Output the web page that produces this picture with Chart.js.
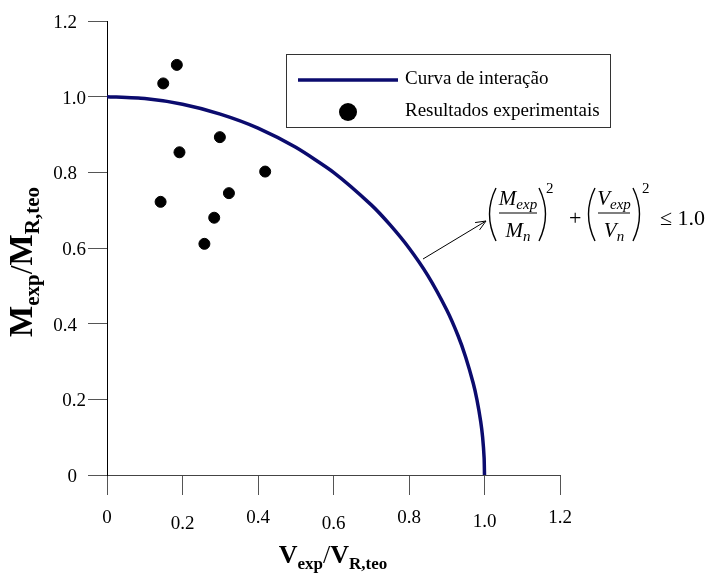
<!DOCTYPE html>
<html>
<head>
<meta charset="utf-8">
<script src="https://cdn.jsdelivr.net/npm/chart.js@4.4.1/dist/chart.umd.min.js"></script>
<style>
body{margin:0;background:#fff}
#wrap{width:712px;height:577px}
</style>
</head>
<body>
<div id="wrap"><canvas class="chart" width="712" height="577"></canvas></div>
<script>
let myChart=document.querySelector('.chart').getContext('2d');

// tick values and labels
const xTicks=[0,0.2,0.4,0.6,0.8,1.0,1.2]
const xTickText=['0','0.2','0.4','0.6','0.8','1.0','1.2']
const yTicks=[0,0.2,0.4,0.6,0.8,1.0,1.2]
const yTickText=['0','0.2','0.4','0.6','0.8','1.0','1.2']

// interaction curve
const curveV=[0,0.1,0.2,0.3,0.4,0.5,0.6,0.7,0.75,0.8,0.85,0.9,0.93,0.95,0.97,0.98,0.99,0.995,0.999,1.0]
const curveM=[1,0.995,0.98,0.954,0.917,0.866,0.8,0.714,0.661,0.6,0.527,0.436,0.368,0.312,0.243,0.199,0.141,0.1,0.045,0]

// test results
const testV=[0.185,0.149,0.299,0.192,0.419,0.323,0.142,0.284,0.258]
const testM=[1.084,1.035,0.893,0.853,0.802,0.745,0.722,0.680,0.611]

const serif='"Liberation Serif", "Times New Roman", serif'
const curveColor='#0b0b6e'
// label staggering like the original
const xLabelDy=[43,49,43,49,43,47,43]
const yLabelDx=[-30,-21,-30,-21,-30,-21,-30]

function drawParts(ctx,parts,x,y,align){
    let w=0
    parts.forEach(p=>{ctx.font=p.font;w+=ctx.measureText(p.t).width})
    let cx=align=='center'?x-w/2:x
    ctx.textAlign='left'
    parts.forEach(p=>{
        ctx.font=p.font
        ctx.fillText(p.t,cx,y+(p.dy||0))
        cx+=ctx.measureText(p.t).width
    })
}

// thin tall bracket like the equation editor draws
function paren(ctx,x,open){
    const d=open?-1:1
    ctx.beginPath()
    ctx.moveTo(x,188)
    ctx.quadraticCurveTo(x+d*13,214,x,241)
    ctx.stroke()
}

const extras={
    id:'extras',
    afterDraw(chart){
        const ctx=chart.ctx
        const xs=chart.scales.x, ys=chart.scales.y
        const area=chart.chartArea
        ctx.save()
        ctx.fillStyle='#000'
        // tick labels
        ctx.font='19px '+serif
        ctx.textBaseline='middle'
        ctx.textAlign='center'
        for(let i=0;i<xTicks.length;i++){
            ctx.fillText(xTickText[i],xs.getPixelForValue(xTicks[i]),area.bottom+xLabelDy[i])
        }
        ctx.textAlign='right'
        for(let i=0;i<yTicks.length;i++){
            ctx.fillText(yTickText[i],area.left+yLabelDx[i],ys.getPixelForValue(yTicks[i])+2)
        }
        // axis titles
        ctx.textBaseline='alphabetic'
        const bigX='bold 26px '+serif, subX='bold 17px '+serif
        drawParts(ctx,[
            {t:'V',font:bigX},{t:'exp',font:subX,dy:6},{t:'/',font:'26px '+serif},
            {t:'V',font:bigX},{t:'R,teo',font:subX,dy:6}
        ],333,563,'center')
        ctx.save()
        ctx.translate(32,262)
        ctx.rotate(-Math.PI/2)
        const bigY='bold 33px '+serif, subY='bold 21px '+serif
        drawParts(ctx,[
            {t:'M',font:bigY},{t:'exp',font:subY,dy:7},{t:'/',font:'32px '+serif},
            {t:'M',font:bigY},{t:'R,teo',font:subY,dy:7}
        ],0,0,'center')
        ctx.restore()

        // legend
        ctx.strokeStyle='#333'
        ctx.lineWidth=1
        ctx.strokeRect(286.5,54.5,324,73)
        ctx.strokeStyle=curveColor
        ctx.lineWidth=3.5
        ctx.beginPath();ctx.moveTo(298,80);ctx.lineTo(398,80);ctx.stroke()
        ctx.beginPath();ctx.arc(348,112,9,0,Math.PI*2);ctx.fill()
        ctx.font='19px '+serif
        ctx.textBaseline='middle'
        ctx.fillText('Curva de interação',405,79)
        ctx.fillText('Resultados experimentais',405,111)

        // arrow to curve
        ctx.strokeStyle='#000'
        ctx.lineWidth=1
        const x0=423,y0=259,x1=486,y1=221
        const ang=Math.atan2(y1-y0,x1-x0)
        ctx.beginPath();ctx.moveTo(x0,y0);ctx.lineTo(x1,y1)
        ctx.moveTo(x1-11*Math.cos(ang-0.4),y1-11*Math.sin(ang-0.4));ctx.lineTo(x1,y1)
        ctx.lineTo(x1-11*Math.cos(ang+0.4),y1-11*Math.sin(ang+0.4))
        ctx.stroke()

        // formula
        ctx.lineWidth=1.4
        paren(ctx,496,true)
        paren(ctx,539,false)
        paren(ctx,595,true)
        paren(ctx,633,false)
        const it='italic 21px '+serif, itSub='italic 15px '+serif
        ctx.textBaseline='alphabetic'
        drawParts(ctx,[{t:'M',font:it},{t:'exp',font:itSub,dy:4}],518,205,'center')
        drawParts(ctx,[{t:'M',font:it},{t:'n',font:itSub,dy:4}],518,237,'center')
        drawParts(ctx,[{t:'V',font:it},{t:'exp',font:itSub,dy:4}],614,205,'center')
        drawParts(ctx,[{t:'V',font:it},{t:'n',font:itSub,dy:4}],614,237,'center')
        ctx.lineWidth=1.2
        ctx.beginPath()
        ctx.moveTo(499,213);ctx.lineTo(537,213)
        ctx.moveTo(598,213);ctx.lineTo(630,213)
        ctx.stroke()
        ctx.font='15px '+serif
        ctx.fillText('2',546,193)
        ctx.fillText('2',642,193)
        ctx.font='22px '+serif
        ctx.fillText('+',569,225)
        ctx.fillText('≤ 1.0',660,225)
        ctx.restore()
    }
}

const chart=new Chart(myChart,{
    type:'scatter',
    data:{
        datasets:[{
            label:'Curva de interação',
            data:curveV.map((v,i)=>({x:v,y:curveM[i]})),
            showLine:true,
            borderColor:curveColor,
            borderWidth:3.5,
            pointRadius:0,
            tension:0.2
        },{
            label:'Resultados experimentais',
            data:testV.map((v,i)=>({x:v,y:testM[i]})),
            backgroundColor:'#000',
            borderColor:'#000',
            pointRadius:5.5
        }]
    },
    options:{
        responsive:false,
        animation:false,
        layout:{padding:{left:0,right:152,top:21,bottom:0}},
        plugins:{legend:{display:false},tooltip:{enabled:false}},
        scales:{
            x:{
                min:0,max:1.2,
                afterBuildTicks:s=>{s.ticks=xTicks.map(v=>({value:v}))},
                ticks:{display:false},
                grid:{drawOnChartArea:false,drawTicks:true,tickLength:20,color:'#555'},
                border:{color:'#444'},
                afterFit:s=>{s.height=102}
            },
            y:{
                min:0,max:1.2,
                afterBuildTicks:s=>{s.ticks=yTicks.map(v=>({value:v}))},
                ticks:{display:false},
                grid:{drawOnChartArea:false,drawTicks:true,tickLength:19,color:'#555'},
                border:{color:'#000'},
                afterFit:s=>{s.width=107}
            }
        }
    },
    plugins:[extras]
})
</script>
</body>
</html>
